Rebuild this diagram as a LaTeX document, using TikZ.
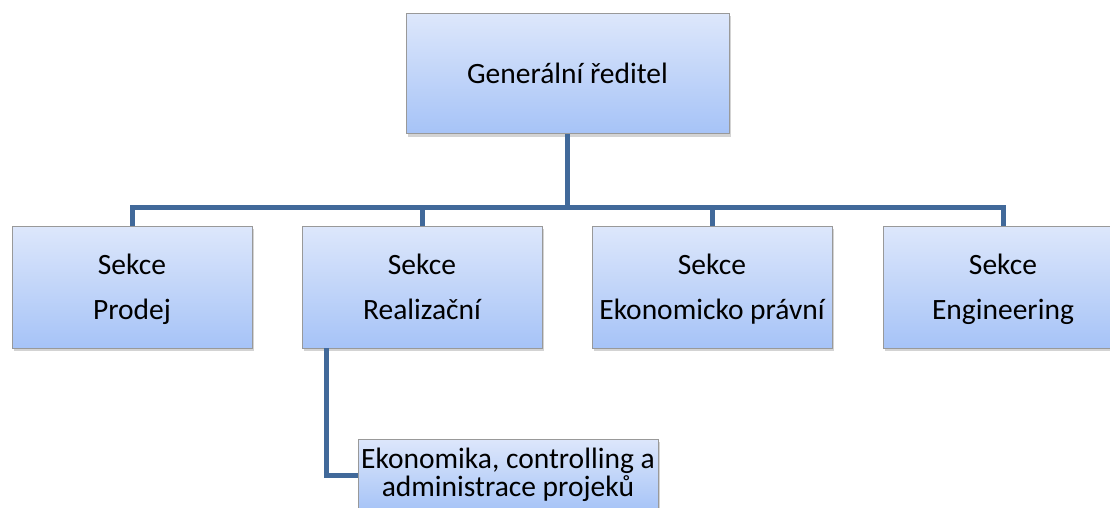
\documentclass[tikz,border=0pt]{standalone}
\usepackage{fontspec}
\setmainfont{Carlito}
\usetikzlibrary{shadows}
\definecolor{linkblue}{HTML}{41699A}
\definecolor{boxtop}{HTML}{DDE7FB}
\definecolor{boxbottom}{HTML}{A6C3F7}
\newcommand\tightlines{\fontsize{29.5}{28}\selectfont\lineskiplimit=-100pt\relax}
\begin{document}
\begin{tikzpicture}[x=1pt,y=-1pt,
  orgbox/.style={draw=black!40, line width=0.8pt,
    top color=boxtop, bottom color=boxbottom,
    minimum width=240pt, minimum height=122pt, inner sep=0pt,
    align=center, font=\fontsize{29.5}{45}\selectfont,
    drop shadow={shadow xshift=2pt, shadow yshift=-3pt, opacity=0.35}},
  section/.style={orgbox, text depth=0pt},
  link/.style={draw=linkblue, line width=5pt}]
\useasboundingbox (0,0) rectangle (1110,508);
\clip (0,0) rectangle (1110,508);

% top level
\node[orgbox, minimum width=323pt, minimum height=120pt] (gr) at (567.5,73.5) {Generální ředitel};

% sections
\node[section] (s1) at (132,287) {Sekce\\Prodej};
\node[section] (s2) at (422,287) {Sekce\\Realizační};
\node[section] (s3) at (712,287) {Sekce\\Ekonomicko právní};
\node[section] (s4) at (1003,287) {Sekce\\Engineering};

% department under Realizační
\node[orgbox, minimum width=300pt, minimum height=72pt,
  font=\tightlines] (ek) at (508,475)
  {Ekonomika, controlling a\\administrace projeků};

% connectors
\coordinate (bus) at (567.5,207);
\draw[link] (gr.south) -- (bus);
\draw[link] (s1.north) -- (s1.north |- bus) -- (s4.north |- bus) -- (s4.north);
\draw[link] (s2.north) -- (s2.north |- bus);
\draw[link] (s3.north) -- (s3.north |- bus);
\draw[link] ([xshift=25pt]s2.south west) |- (ek.west);
\end{tikzpicture}
\end{document}
